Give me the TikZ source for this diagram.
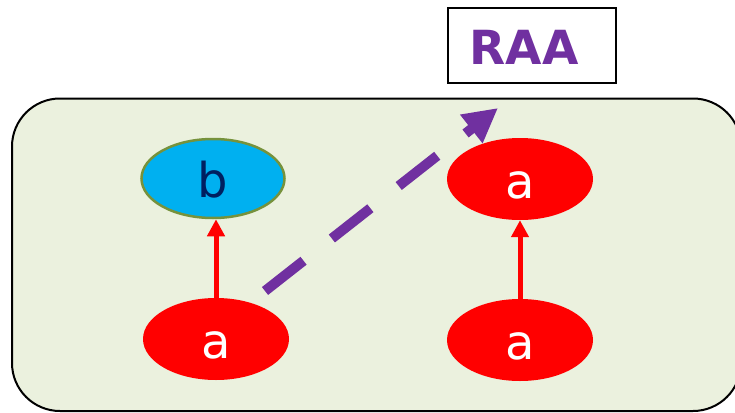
\documentclass[tikz,border=0pt]{standalone}
\usepackage{fontspec}
\newfontfamily\lblfont{DejaVu Sans}
\usetikzlibrary{arrows.meta,shapes.geometric}
\definecolor{panel}{HTML}{EBF1DE}
\definecolor{raapurple}{HTML}{7030A0}
\definecolor{bfill}{HTML}{00B0F0}
\definecolor{bedge}{HTML}{76923C}
\definecolor{btext}{HTML}{002060}

\begin{document}
\begin{tikzpicture}[x=1pt,y=-1pt,
  letter/.style={font=\lblfont\fontsize{48}{48}\selectfont, text height=38pt, text depth=0pt},
  redell/.style={ellipse, fill=red, minimum width=146pt, minimum height=82pt,
    inner sep=0pt, text=white, letter},
  blueell/.style={ellipse, draw=bedge, line width=2.5pt, fill=bfill,
    minimum width=143pt, minimum height=79pt, inner sep=0pt, text=btext, letter},
  redarrow/.style={red, line width=5pt, -{Triangle[length=17pt,width=17pt]}},
  raaarrow/.style={raapurple, line width=10pt, dash pattern=on 49pt off 36pt,
    -{Triangle[length=34pt,width=34pt]}}
]
\useasboundingbox (0,0) rectangle (735,412);

% green panel, running off the right and bottom edges
\begin{scope}
  \clip (0,0) rectangle (735,412);
  \draw[line width=2pt, fill=panel, rounded corners=48pt] (12,98.5) rectangle (741,411);
\end{scope}

% RAA label box
\node[draw, line width=2pt, fill=white, minimum width=168pt, minimum height=75pt,
  inner sep=0pt] (raabox) at (532,45.5) {};
\node[font=\lblfont\bfseries\fontsize{47}{47}\selectfont, text=raapurple,
  inner sep=0pt] (raa) at (524,47) {RAA};

% ellipses
\node[blueell] (b) at (213,178.5) {b};
\node[redell] (a1) at (216,339) {a};
\node[redell] (a2) at (520,179) {a};
\node[redell] (a3) at (520,340) {a};

% arrows
\draw[redarrow] (a1.north) -- (a1.north |- b.south);
\draw[redarrow] (a3.north) -- (a2.south);

\coordinate (dstart) at (265,291);
\coordinate (dend) at (498,108);
\draw[raaarrow] (dstart) -- (dend);
\end{tikzpicture}
\end{document}
